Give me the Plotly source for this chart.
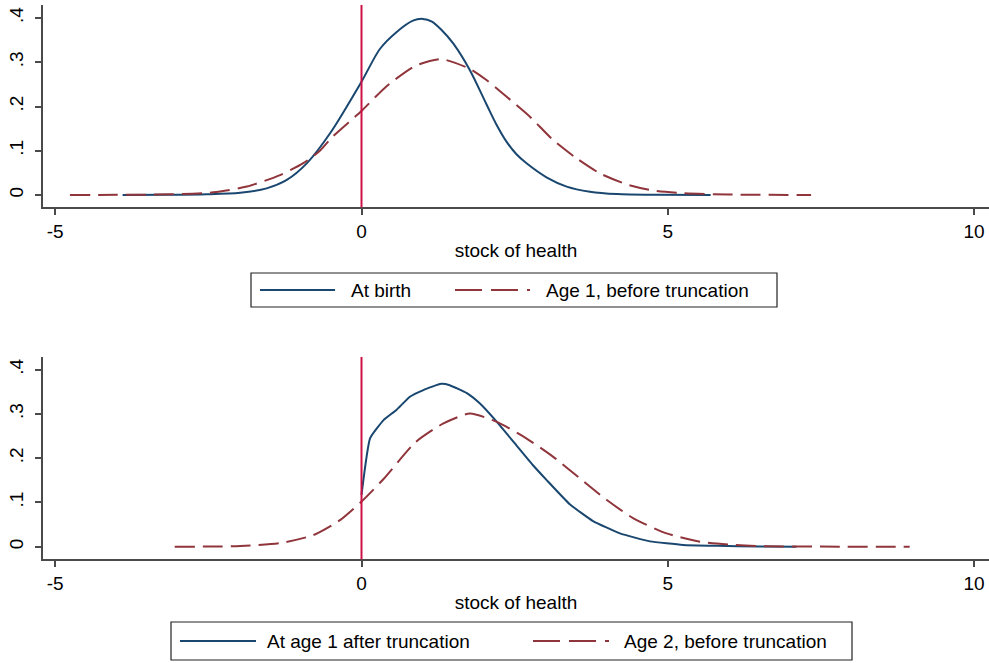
import plotly.graph_objects as go

# ---- density estimates of the stock of health ----
# Top panel
birth_x = [-3.9, -3.2, -2.53, -1.98, -1.55, -1.22, -0.89, -0.51, 0.0, 0.30, 0.57,
           0.84, 1.0, 1.15, 1.30, 1.50, 1.77, 2.04, 2.20, 2.37, 2.53, 2.70, 3.02,
           3.35, 3.73, 4.17, 4.8, 5.7]
birth_y = [0.0, 0.0003, 0.0015, 0.005, 0.015, 0.034, 0.072, 0.140, 0.256, 0.330,
           0.368, 0.394, 0.398, 0.392, 0.374, 0.342, 0.282, 0.205, 0.160, 0.120,
           0.092, 0.071, 0.040, 0.019, 0.0075, 0.002, 0.0003, 0.0]

age1_x = [-4.76, -4.0, -3.07, -2.42, -1.87, -1.33, -0.95, -0.68, -0.47, 0.0, 0.41,
          0.88, 1.31, 1.77, 2.04, 2.37, 2.75, 3.13, 3.51, 3.89, 4.33, 4.76, 5.25,
          6.0, 7.34]
age1_y = [0.0, 0.0003, 0.0015, 0.006, 0.019, 0.045, 0.072, 0.100, 0.132, 0.190,
          0.246, 0.292, 0.307, 0.285, 0.260, 0.222, 0.177, 0.124, 0.083, 0.049,
          0.024, 0.010, 0.004, 0.001, 0.0]

# Bottom panel
trunc_x = [0.0, 0.14, 0.36, 0.57, 0.79, 1.01, 1.30, 1.44, 1.72, 1.93, 2.21, 2.50,
           2.80, 3.02, 3.40, 3.78, 4.22, 4.71, 5.25, 5.8, 6.5, 7.1]
trunc_y = [0.117, 0.245, 0.286, 0.309, 0.339, 0.354, 0.368, 0.365, 0.347, 0.324,
           0.282, 0.234, 0.184, 0.151, 0.096, 0.058, 0.030, 0.012, 0.004, 0.002,
           0.0005, 0.0]

age2_x = [-3.05, -2.5, -1.98, -1.33, -0.79, -0.35, 0.0, 0.36, 0.88, 1.33, 1.77,
          2.21, 2.69, 3.13, 3.56, 4.0, 4.44, 4.98, 5.53, 6.07, 6.61, 7.5, 8.95]
age2_y = [0.0, 0.0003, 0.0015, 0.008, 0.026, 0.060, 0.102, 0.153, 0.236, 0.278,
          0.301, 0.282, 0.245, 0.203, 0.155, 0.106, 0.064, 0.030, 0.011, 0.004,
          0.001, 0.0002, 0.0]

x_ticks = [-5, 0, 5, 10]
x_tick_text = ["-5", "0", "5", "10"]
y_ticks = [0, 0.1, 0.2, 0.3, 0.4]
y_tick_text = ["0", ".1", ".2", ".3", ".4"]
x_title = "stock of health"
top_names = ["At birth", "Age 1, before truncation"]
bottom_names = ["At age 1 after truncation", "Age 2, before truncation"]

NAVY = "#1a476f"
MAROON = "#90353b"
CUTOFF = "#cc1144"
AXIS = "#4a4a4a"
FONT = "Liberation Sans, Arial, sans-serif"
FS = 19

W, H = 989, 663


def px(x):
    return x / W


def py(y):
    return 1 - y / H


fig = go.Figure()

curve_dash = "20px,8px"
fig.add_trace(go.Scatter(x=birth_x, y=birth_y, mode="lines", name=top_names[0],
                         line=dict(color=NAVY, width=2, shape="spline", smoothing=0.8),
                         xaxis="x", yaxis="y", showlegend=False))
fig.add_trace(go.Scatter(x=age1_x, y=age1_y, mode="lines", name=top_names[1],
                         line=dict(color=MAROON, width=2, dash=curve_dash,
                                   shape="spline", smoothing=0.6),
                         xaxis="x", yaxis="y", showlegend=False))
fig.add_trace(go.Scatter(x=trunc_x, y=trunc_y, mode="lines", name=bottom_names[0],
                         line=dict(color=NAVY, width=2, shape="spline", smoothing=0.4),
                         xaxis="x2", yaxis="y2", showlegend=False))
fig.add_trace(go.Scatter(x=age2_x, y=age2_y, mode="lines", name=bottom_names[1],
                         line=dict(color=MAROON, width=2, dash=curve_dash,
                                   shape="spline", smoothing=0.6),
                         xaxis="x2", yaxis="y2", showlegend=False))

# truncation point at zero
for xr, yr in (("x", "y domain"), ("x2", "y2 domain")):
    fig.add_shape(type="line", xref=xr, yref=yr, x0=0, x1=0, y0=0, y1=1,
                  line=dict(color=CUTOFF, width=2))

x_range = [-5.2, 10.245]
xaxis_common = dict(range=x_range, tickvals=x_ticks, ticktext=x_tick_text,
                    showline=True, linecolor=AXIS,
                    linewidth=1.5, ticks="outside", ticklen=6, tickwidth=1.5,
                    tickcolor=AXIS, showgrid=False, zeroline=False,
                    tickfont=dict(family=FONT, size=FS, color="black"),
                    title=dict(text=x_title, font=dict(family=FONT, size=FS, color="black"),
                               standoff=3))
yaxis_common = dict(tickvals=y_ticks, ticktext=y_tick_text, showline=True,
                    linecolor=AXIS, linewidth=1.5, ticks="outside", ticklen=6,
                    tickwidth=1.5, tickcolor=AXIS, showgrid=False, zeroline=False,
                    tickangle=-90, ticklabelstandoff=5,
                    tickfont=dict(family=FONT, size=FS, color="black"))

fig.update_layout(
    width=W, height=H,
    margin=dict(l=0, r=0, t=0, b=0),
    paper_bgcolor="white", plot_bgcolor="white",
    xaxis=dict(domain=[px(43), 1], anchor="y", **xaxis_common),
    yaxis=dict(domain=[py(207.3), py(5)], anchor="x", range=[-0.0278, 0.4294],
               **yaxis_common),
    xaxis2=dict(domain=[px(43), 1], anchor="y2", **xaxis_common),
    yaxis2=dict(domain=[py(559.3), py(357)], anchor="x2", range=[-0.0285, 0.4287],
                **yaxis_common),
    showlegend=False,
)


def legend_box(x0, x1, y0, y1, names, sample_x, text_x):
    yc = (y0 + y1) / 2
    fig.add_shape(type="rect", xref="paper", yref="paper", x0=px(x0), x1=px(x1),
                  y0=py(y1), y1=py(y0), line=dict(color="#222", width=1.2),
                  fillcolor="white", layer="below")
    styles = [dict(color=NAVY, width=2), dict(color=MAROON, width=2, dash="27px,9px")]
    for name, (sx0, sx1), tx, st in zip(names, sample_x, text_x, styles):
        fig.add_shape(type="line", xref="paper", yref="paper", x0=px(sx0), x1=px(sx1),
                      y0=py(yc), y1=py(yc), line=st)
        fig.add_annotation(text=name, xref="paper", yref="paper", x=px(tx), y=py(yc),
                           xanchor="left", yanchor="middle", showarrow=False,
                           font=dict(family=FONT, size=FS, color="black"))


legend_box(251, 777, 273, 307, top_names, [(260, 335), (455, 530)], [349, 544])
legend_box(171, 852, 622, 660, bottom_names, [(180, 256), (533, 609)], [265, 622])

fig.write_html("out.html")
